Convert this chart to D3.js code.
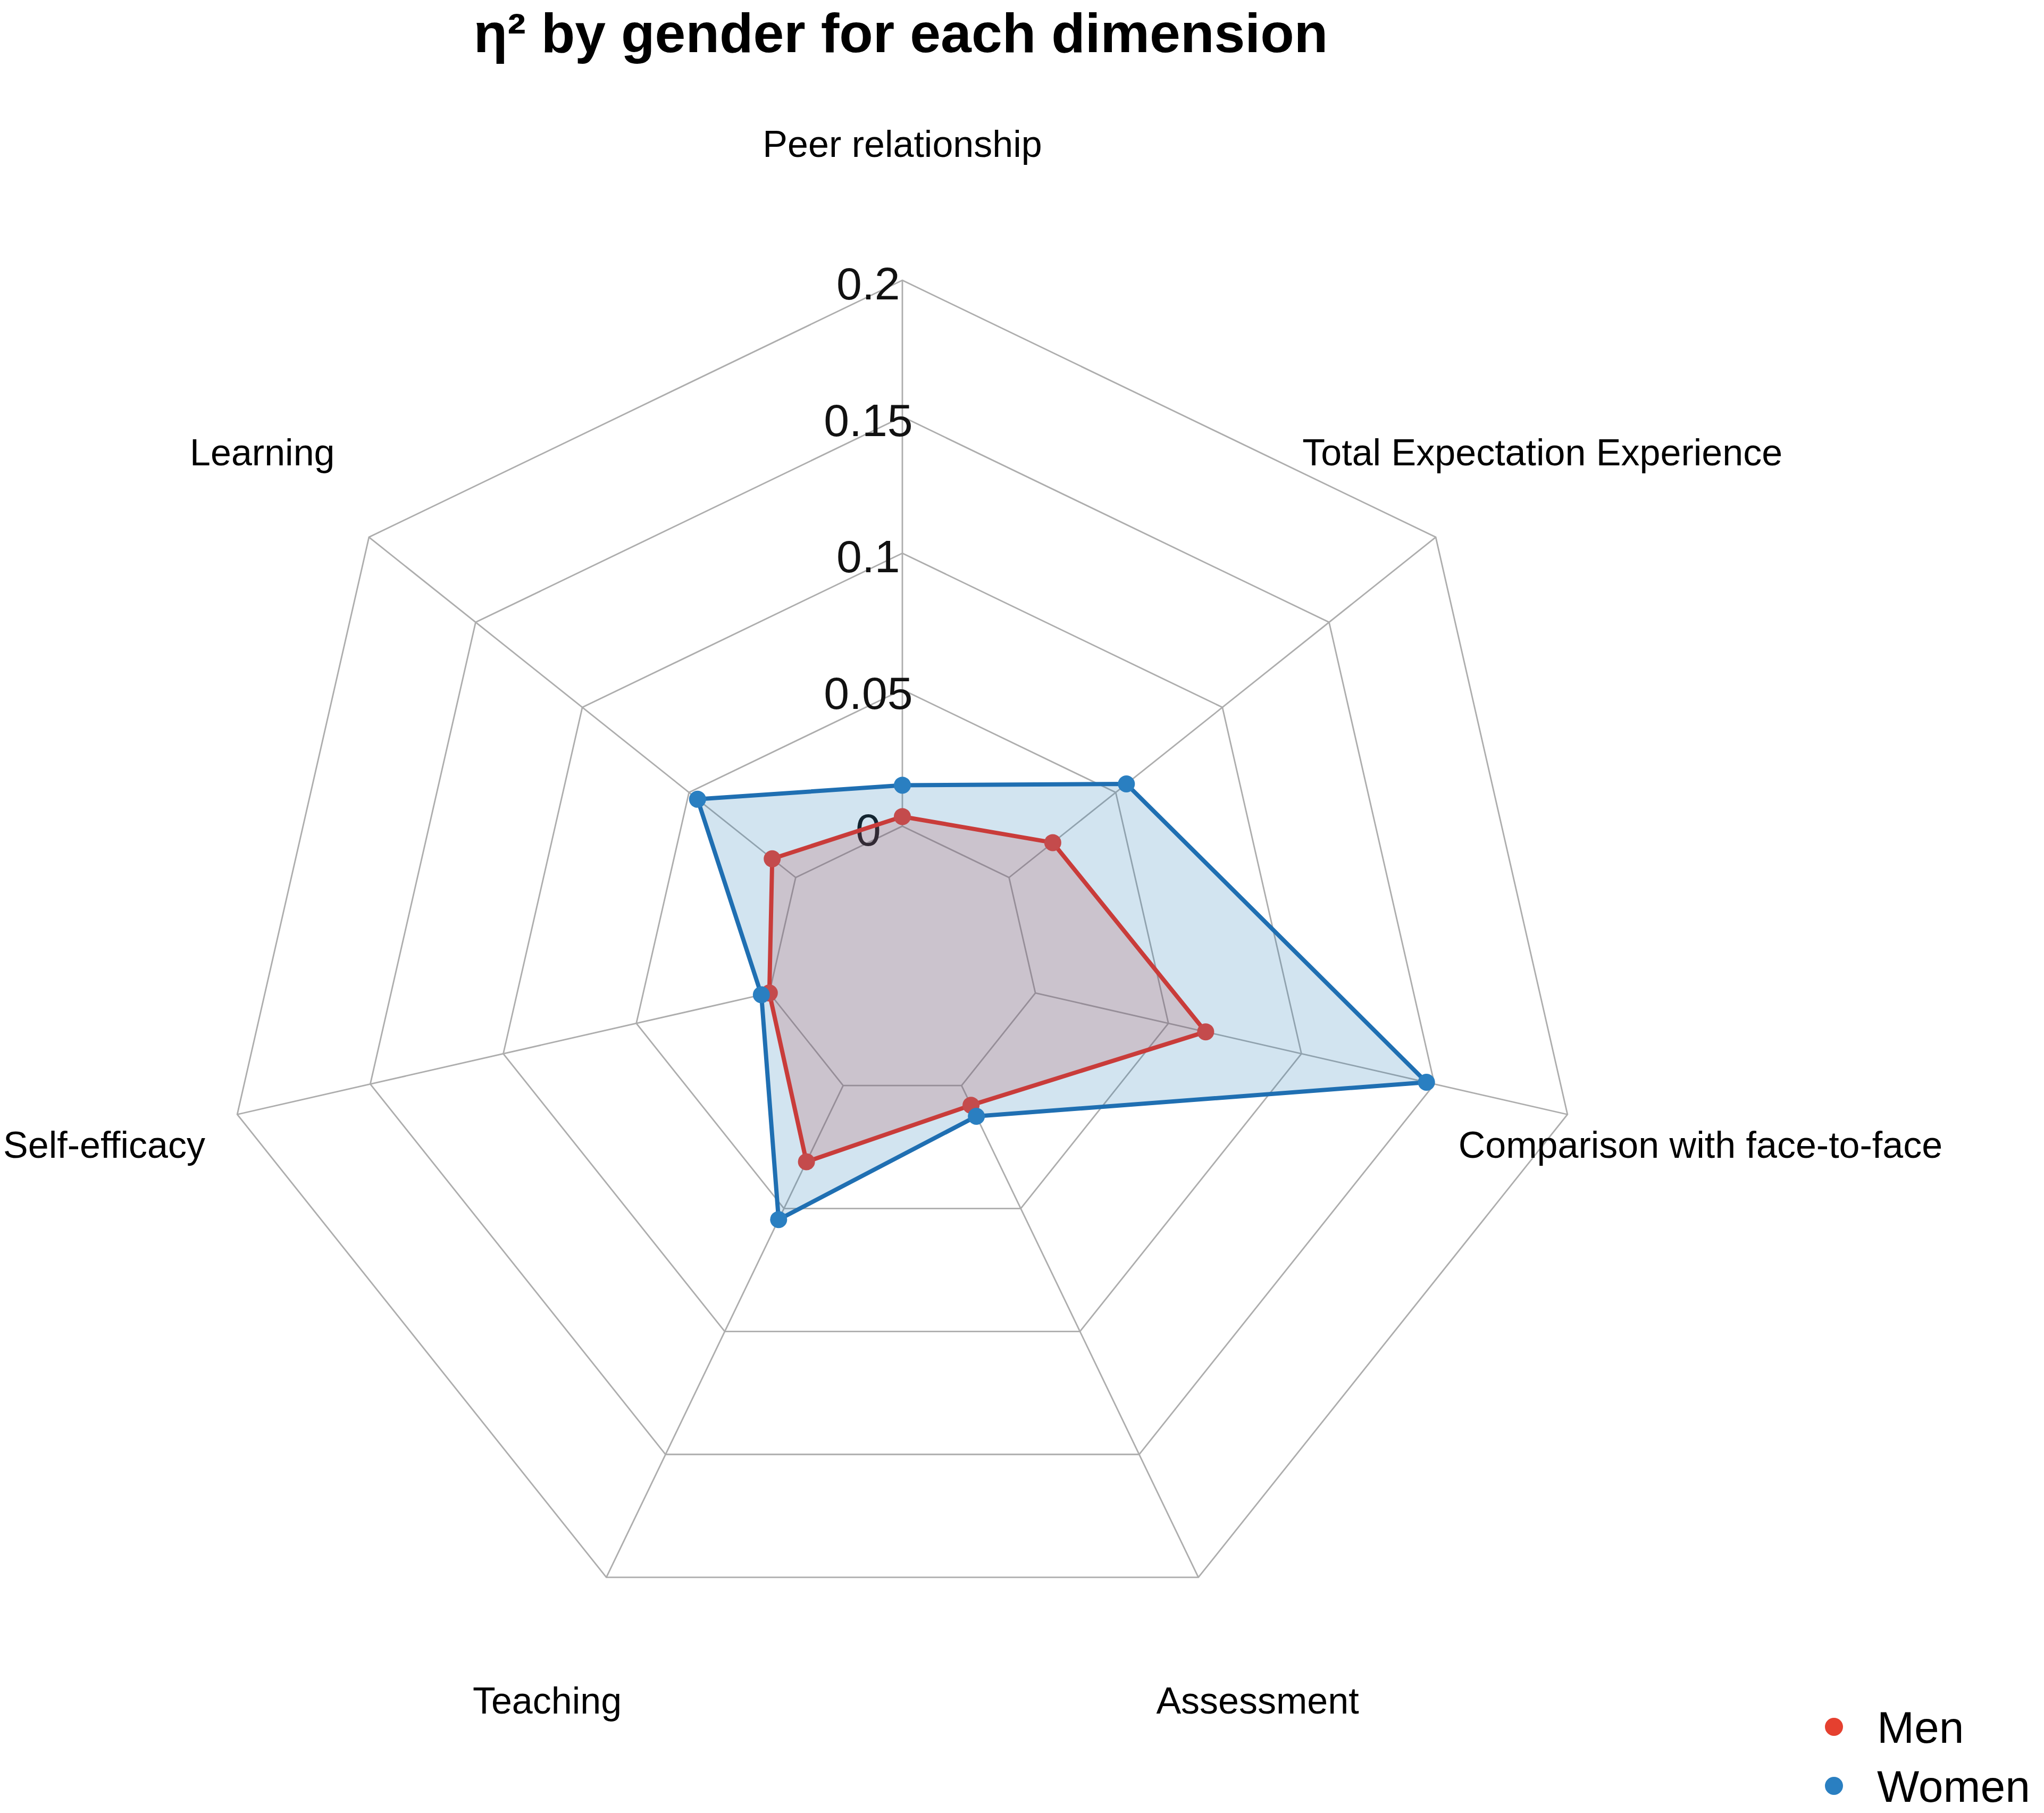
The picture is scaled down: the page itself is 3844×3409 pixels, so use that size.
<!DOCTYPE html>
<html><head><meta charset="utf-8">
<script src="https://cdn.jsdelivr.net/npm/d3@7"></script>
<style>html,body{margin:0;padding:0;background:#fff}</style>
</head><body>
<svg id="chart" width="3844" height="3409"></svg>
<script>
const chartTitle = "η² by gender for each dimension";
const categories = ["Peer relationship", "Total Expectation Experience", "Comparison with face-to-face", "Assessment", "Teaching", "Self-efficacy", "Learning"];
const seriesNames = ["Men", "Women"];
const menValues = [0.0035, 0.0205, 0.064, 0.008, 0.031, 0.000, 0.011];
const womenValues = [0.015, 0.055, 0.147, 0.0125, 0.0545, 0.003, 0.046];
const tickValues = [0, 0.05, 0.1, 0.15, 0.2];
const tickLabels = ["0", "0.05", "0.1", "0.15", "0.2"];

const W = 3844, H = 3409, cx = 1697, cy = 1810, R = 1283;
const FONT = "'Liberation Sans', Arial, sans-serif";
const colors = {Men: {line: "#f42e1c", point: "#ee4032", fill: "rgba(215,48,39,0.2)"},
                Women: {line: "#1f6fb2", point: "#2a7fc1", fill: "rgba(31,120,180,0.2)"}};

const svg = d3.select("#chart");
svg.append("rect").attr("width", W).attr("height", H).attr("fill", "#fff");

const g = svg.append("g").attr("transform", `translate(${cx},${cy})`);
const r = d3.scaleLinear().domain([0, 0.2]).range([0.2 * R, R]);
const angle = d3.scaleLinear().domain([0, categories.length]).range([0, 2 * Math.PI]);
const pt = (i, rad) => [rad * Math.sin(angle(i)), -rad * Math.cos(angle(i))];

// grid rings
tickValues.forEach(t => {
  g.append("path")
    .attr("d", d3.line()(categories.map((c, i) => pt(i, r(t)))) + "Z")
    .attr("fill", "none").attr("stroke", "#adadad").attr("stroke-width", 2.8);
});
// spokes
categories.forEach((c, i) => {
  const a = pt(i, r(0)), b = pt(i, r(0.2));
  g.append("line").attr("x1", a[0]).attr("y1", a[1]).attr("x2", b[0]).attr("y2", b[1])
    .attr("stroke", "#adadad").attr("stroke-width", 2.8);
});
// tick labels
tickValues.forEach((t, k) => {
  g.append("text").attr("x", -0.05 * R).attr("y", -r(t)).attr("dy", "0.42em")
    .attr("text-anchor", "middle").attr("font-family", FONT).attr("font-size", 86)
    .attr("fill", "#111").text(tickLabels[k]);
});
// axis labels
categories.forEach((c, i) => {
  const p = pt(i, 1.2 * R);
  g.append("text").attr("x", p[0]).attr("y", p[1]).attr("dy", "0.35em")
    .attr("text-anchor", "middle").attr("font-family", FONT).attr("font-size", 70)
    .attr("fill", "#000").text(c);
});

// series
const radial = d3.lineRadial().angle((d, i) => angle(i)).radius(d => r(d)).curve(d3.curveLinearClosed);
const seriesData = [menValues, womenValues];
seriesData.forEach((vals, s) => {
  const col = colors[seriesNames[s]];
  g.append("path").attr("d", radial(vals))
    .attr("fill", col.fill).attr("stroke", col.line).attr("stroke-width", 8)
    .attr("stroke-linejoin", "round");
  g.selectAll(null).data(vals).enter().append("circle")
    .attr("cx", (d, i) => pt(i, r(d))[0]).attr("cy", (d, i) => pt(i, r(d))[1])
    .attr("r", 16).attr("fill", col.point);
});

// title
svg.append("text").attr("x", 1694).attr("y", 98).attr("text-anchor", "middle")
  .attr("font-family", FONT).attr("font-weight", "bold").attr("font-size", 104)
  .attr("fill", "#000").text(chartTitle);

// legend
const legend = svg.append("g").attr("transform", "translate(3449,3247)");
seriesNames.forEach((n, k) => {
  legend.append("circle").attr("cx", 0).attr("cy", k * 111).attr("r", 17).attr("fill", k === 0 ? "#e5402f" : colors[n].point);
  legend.append("text").attr("x", 81).attr("y", k * 111).attr("dy", "0.36em")
    .attr("font-family", FONT).attr("font-size", 84).attr("fill", "#000").text(n);
});
</script>
</body></html>
